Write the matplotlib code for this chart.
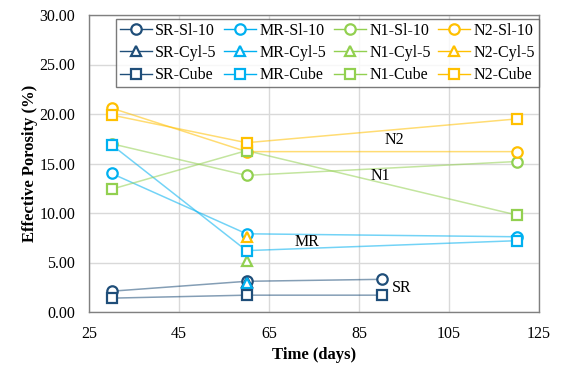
import matplotlib
matplotlib.use("Agg")
import matplotlib.pyplot as plt
from matplotlib.ticker import FormatStrFormatter

plt.rcParams['font.family'] = ['Liberation Serif', 'DejaVu Serif']

days = [30, 60, 90, 120]

# series in Excel order (row-wise legend)
series = [
    ("SR-Sl-10", "SR", "o", [2.1, 3.1, 3.3, None]),
    ("MR-Sl-10", "MR", "o", [14.0, 7.9, None, 7.6]),
    ("N1-Sl-10", "N1", "o", [17.0, 13.8, None, 15.2]),
    ("N2-Sl-10", "N2", "o", [20.6, 16.2, None, 16.2]),
    ("SR-Cyl-5", "SR", "^", [None, 3.0, None, None]),
    ("MR-Cyl-5", "MR", "^", [None, 2.9, None, None]),
    ("N1-Cyl-5", "N1", "^", [None, 5.2, None, None]),
    ("N2-Cyl-5", "N2", "^", [None, 7.6, None, None]),
    ("SR-Cube", "SR", "s", [1.4, 1.7, 1.7, None]),
    ("MR-Cube", "MR", "s", [16.9, 6.2, None, 7.2]),
    ("N1-Cube", "N1", "s", [12.4, 16.3, None, 9.8]),
    ("N2-Cube", "N2", "s", [19.9, 17.1, None, 19.5]),
]

colors = {"SR": "#1F4E79", "MR": "#00B0F0", "N1": "#92D050", "N2": "#FFC000"}

labels_txt = ["N2", "N1", "MR", "SR"]
labels_x = [92.8, 89.7, 73.4, 94.5]
labels_y = [17.4, 13.7, 7.1, 2.4]

fig = plt.figure(figsize=(5.66, 3.8), dpi=100)
ax = fig.add_axes([89/566, 1 - 312/380, (539 - 89)/566, (312 - 15)/380])

handles = []
for name, grp, mk, vals in series:
    xs = [d for d, v in zip(days, vals) if v is not None]
    ys = [v for v in vals if v is not None]
    c = colors[grp]
    ax.plot(xs, ys, '-', color=c, alpha=0.55, lw=1.1, zorder=2)
    ax.plot(xs, ys, linestyle='none', marker=mk, markersize=7.5,
            markerfacecolor='white', markeredgecolor=c, markeredgewidth=1.6, zorder=3)
    h, = ax.plot([], [], '-', color=c, alpha=1, lw=1.0, marker=mk, markersize=7.5,
                 markerfacecolor='white', markeredgecolor=c, markeredgewidth=1.6)
    handles.append((h, name))

for t, x, y in zip(labels_txt, labels_x, labels_y):
    ax.text(x, y, t, fontsize=11.5, ha='center', va='center', zorder=4)

ax.set_xlim(25, 125)
ax.set_ylim(0, 30)
ax.set_xticks(range(25, 126, 20))
ax.set_yticks(range(0, 31, 5))
ax.yaxis.set_major_formatter(FormatStrFormatter('%.2f'))
ax.grid(True, color='#D9D9D9', lw=1)
ax.set_axisbelow(True)
ax.tick_params(length=0, labelsize=11.5)
ax.tick_params(axis='y', pad=10)
ax.tick_params(axis='x', pad=10)
for s in ax.spines.values():
    s.set_color('#808080')
    s.set_linewidth(1)

ax.set_xlabel('Time (days)', fontsize=12, fontweight='bold', labelpad=4)
ax.set_ylabel('Effective Porosity (%)', fontsize=12, fontweight='bold', labelpad=1)

# reorder for column-first filling so legend reads row-wise
order = []
for col in range(4):
    for row in range(3):
        order.append(row * 4 + col)
hs = [handles[i][0] for i in order]
ls = [handles[i][1] for i in order]
x0 = (116 - 89) / 450
y1 = (312 - 19) / 297
y0 = (312 - 83) / 297
leg = ax.legend(hs, ls, ncol=4, loc='upper left', mode='expand',
                bbox_to_anchor=(x0, y0, 1.0 - x0, y1 - y0),
                fontsize=11.5, frameon=True, fancybox=False, edgecolor='#595959',
                handlelength=2.0, handletextpad=0.2, columnspacing=0.6,
                labelspacing=0.38, borderpad=0.25, borderaxespad=0)
leg.get_frame().set_linewidth(1)

fig.savefig('out.png', dpi=100)
